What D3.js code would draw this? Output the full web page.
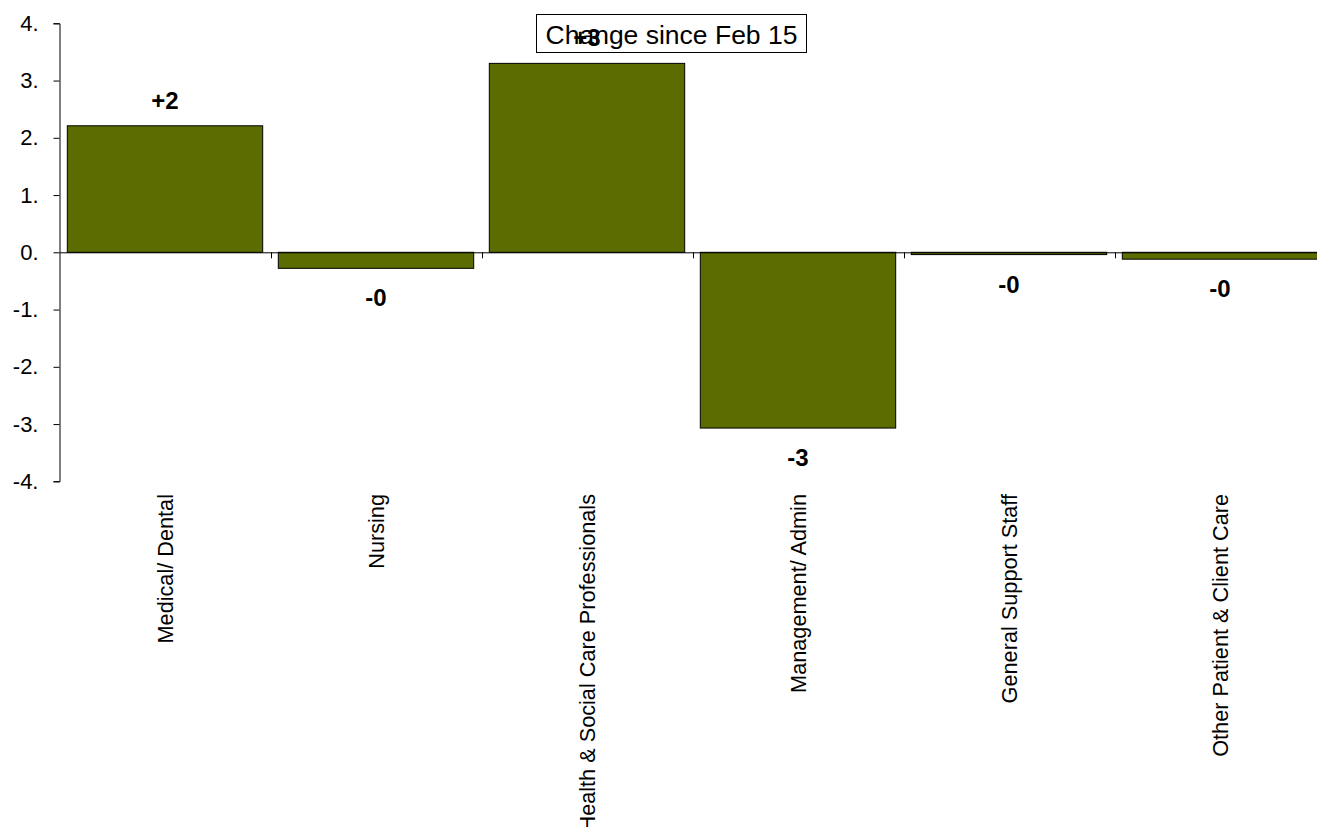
<!DOCTYPE html>
<html>
<head>
<meta charset="utf-8">
<script src="https://cdn.jsdelivr.net/npm/d3@7"></script>
<style>
  html, body { margin: 0; padding: 0; background: #fff; }
  svg { display: block; font-family: "Liberation Sans", Arial, sans-serif; }
</style>
</head>
<body>
<svg id="chart" width="1317" height="827"></svg>
<script>
// Staff groups and their change since Feb 15
const categories = [
  "Medical/ Dental",
  "Nursing",
  "Health & Social Care Professionals",
  "Management/ Admin",
  "General Support Staff",
  "Other Patient & Client Care"
];
const changes = [2.21, -0.28, 3.30, -3.07, -0.04, -0.12];
const yTicks = [4, 3, 2, 1, 0, -1, -2, -3, -4];
const titleText = "Change since Feb 15";

const svg = d3.select("#chart");
const barColor = "#5d6c00";

const x = d3.scaleBand()
  .domain(categories)
  .range([59.5, 1325.5])
  .padding(0);

const y = d3.scaleLinear()
  .domain([-4, 4])
  .range([481.3, 23.3]);

const inset = x.bandwidth() * 0.037;

// Title box
const title = svg.append("g");
title.append("rect")
  .attr("x", 536.5).attr("y", 14.5)
  .attr("width", 270).attr("height", 38)
  .attr("fill", "#fff").attr("stroke", "#000").attr("stroke-width", 1);
title.append("text")
  .attr("x", 671.5).attr("y", 44)
  .attr("text-anchor", "middle")
  .attr("font-size", 26.5)
  .attr("fill", "#000")
  .text(titleText);

// Bars
svg.append("g")
  .selectAll("rect")
  .data(categories)
  .join("rect")
  .attr("x", (d) => x(d) + inset)
  .attr("width", x.bandwidth() - 2 * inset)
  .attr("y", (d, i) => y(Math.max(0, changes[i])))
  .attr("height", (d, i) => Math.abs(y(changes[i]) - y(0)))
  .attr("fill", barColor)
  .attr("stroke", "#000")
  .attr("stroke-width", 1);

// Y axis
const yAxis = d3.axisLeft(y)
  .tickValues(yTicks)
  .tickFormat((d) => d + ".")
  .tickSize(6)
  .tickPadding(15);

const yg = svg.append("g")
  .attr("transform", "translate(59.5,0)")
  .call(yAxis);
yg.select(".domain").attr("stroke", "#000");
yg.selectAll(".tick line").attr("stroke", "#000");
yg.selectAll(".tick text")
  .attr("font-size", 22)
  .attr("font-family", "'Liberation Sans', Arial, sans-serif")
  .attr("fill", "#000");

// Zero line with category boundary ticks
const xAxis = d3.axisBottom(x).tickSize(0).tickFormat(() => "");
const xg = svg.append("g")
  .attr("transform", `translate(0,${y(0)})`)
  .call(xAxis);
xg.select(".domain").attr("stroke", "#000");
xg.selectAll(".tick").remove();
xg.selectAll(".boundary")
  .data(categories.slice(1))
  .join("line")
  .attr("class", "boundary")
  .attr("x1", (d) => Math.round(x(d)) + 0.5)
  .attr("x2", (d) => Math.round(x(d)) + 0.5)
  .attr("y1", 0).attr("y2", 6)
  .attr("stroke", "#000");

// Category labels, rotated below the plot
svg.append("g")
  .selectAll("text")
  .data(categories)
  .join("text")
  .attr("transform", (d) => `translate(${x(d) + x.bandwidth() / 2},494) rotate(-90)`)
  .attr("text-anchor", "end")
  .attr("dy", "0.35em")
  .attr("font-size", 21.7)
  .attr("fill", "#000")
  .text((d) => d);

// Value labels (rounded change)
const fmt = (v) => (v >= 0 ? "+" : "-") + Math.round(Math.abs(v));
svg.append("g")
  .selectAll("text")
  .data(categories)
  .join("text")
  .attr("x", (d) => x(d) + x.bandwidth() / 2)
  .attr("y", (d, i) => changes[i] >= 0 ? y(changes[i]) - 17 : y(changes[i]) + 38)
  .attr("text-anchor", "middle")
  .attr("font-size", 24)
  .attr("font-weight", "bold")
  .attr("fill", "#000")
  .text((d, i) => fmt(changes[i]));
</script>
</body>
</html>
